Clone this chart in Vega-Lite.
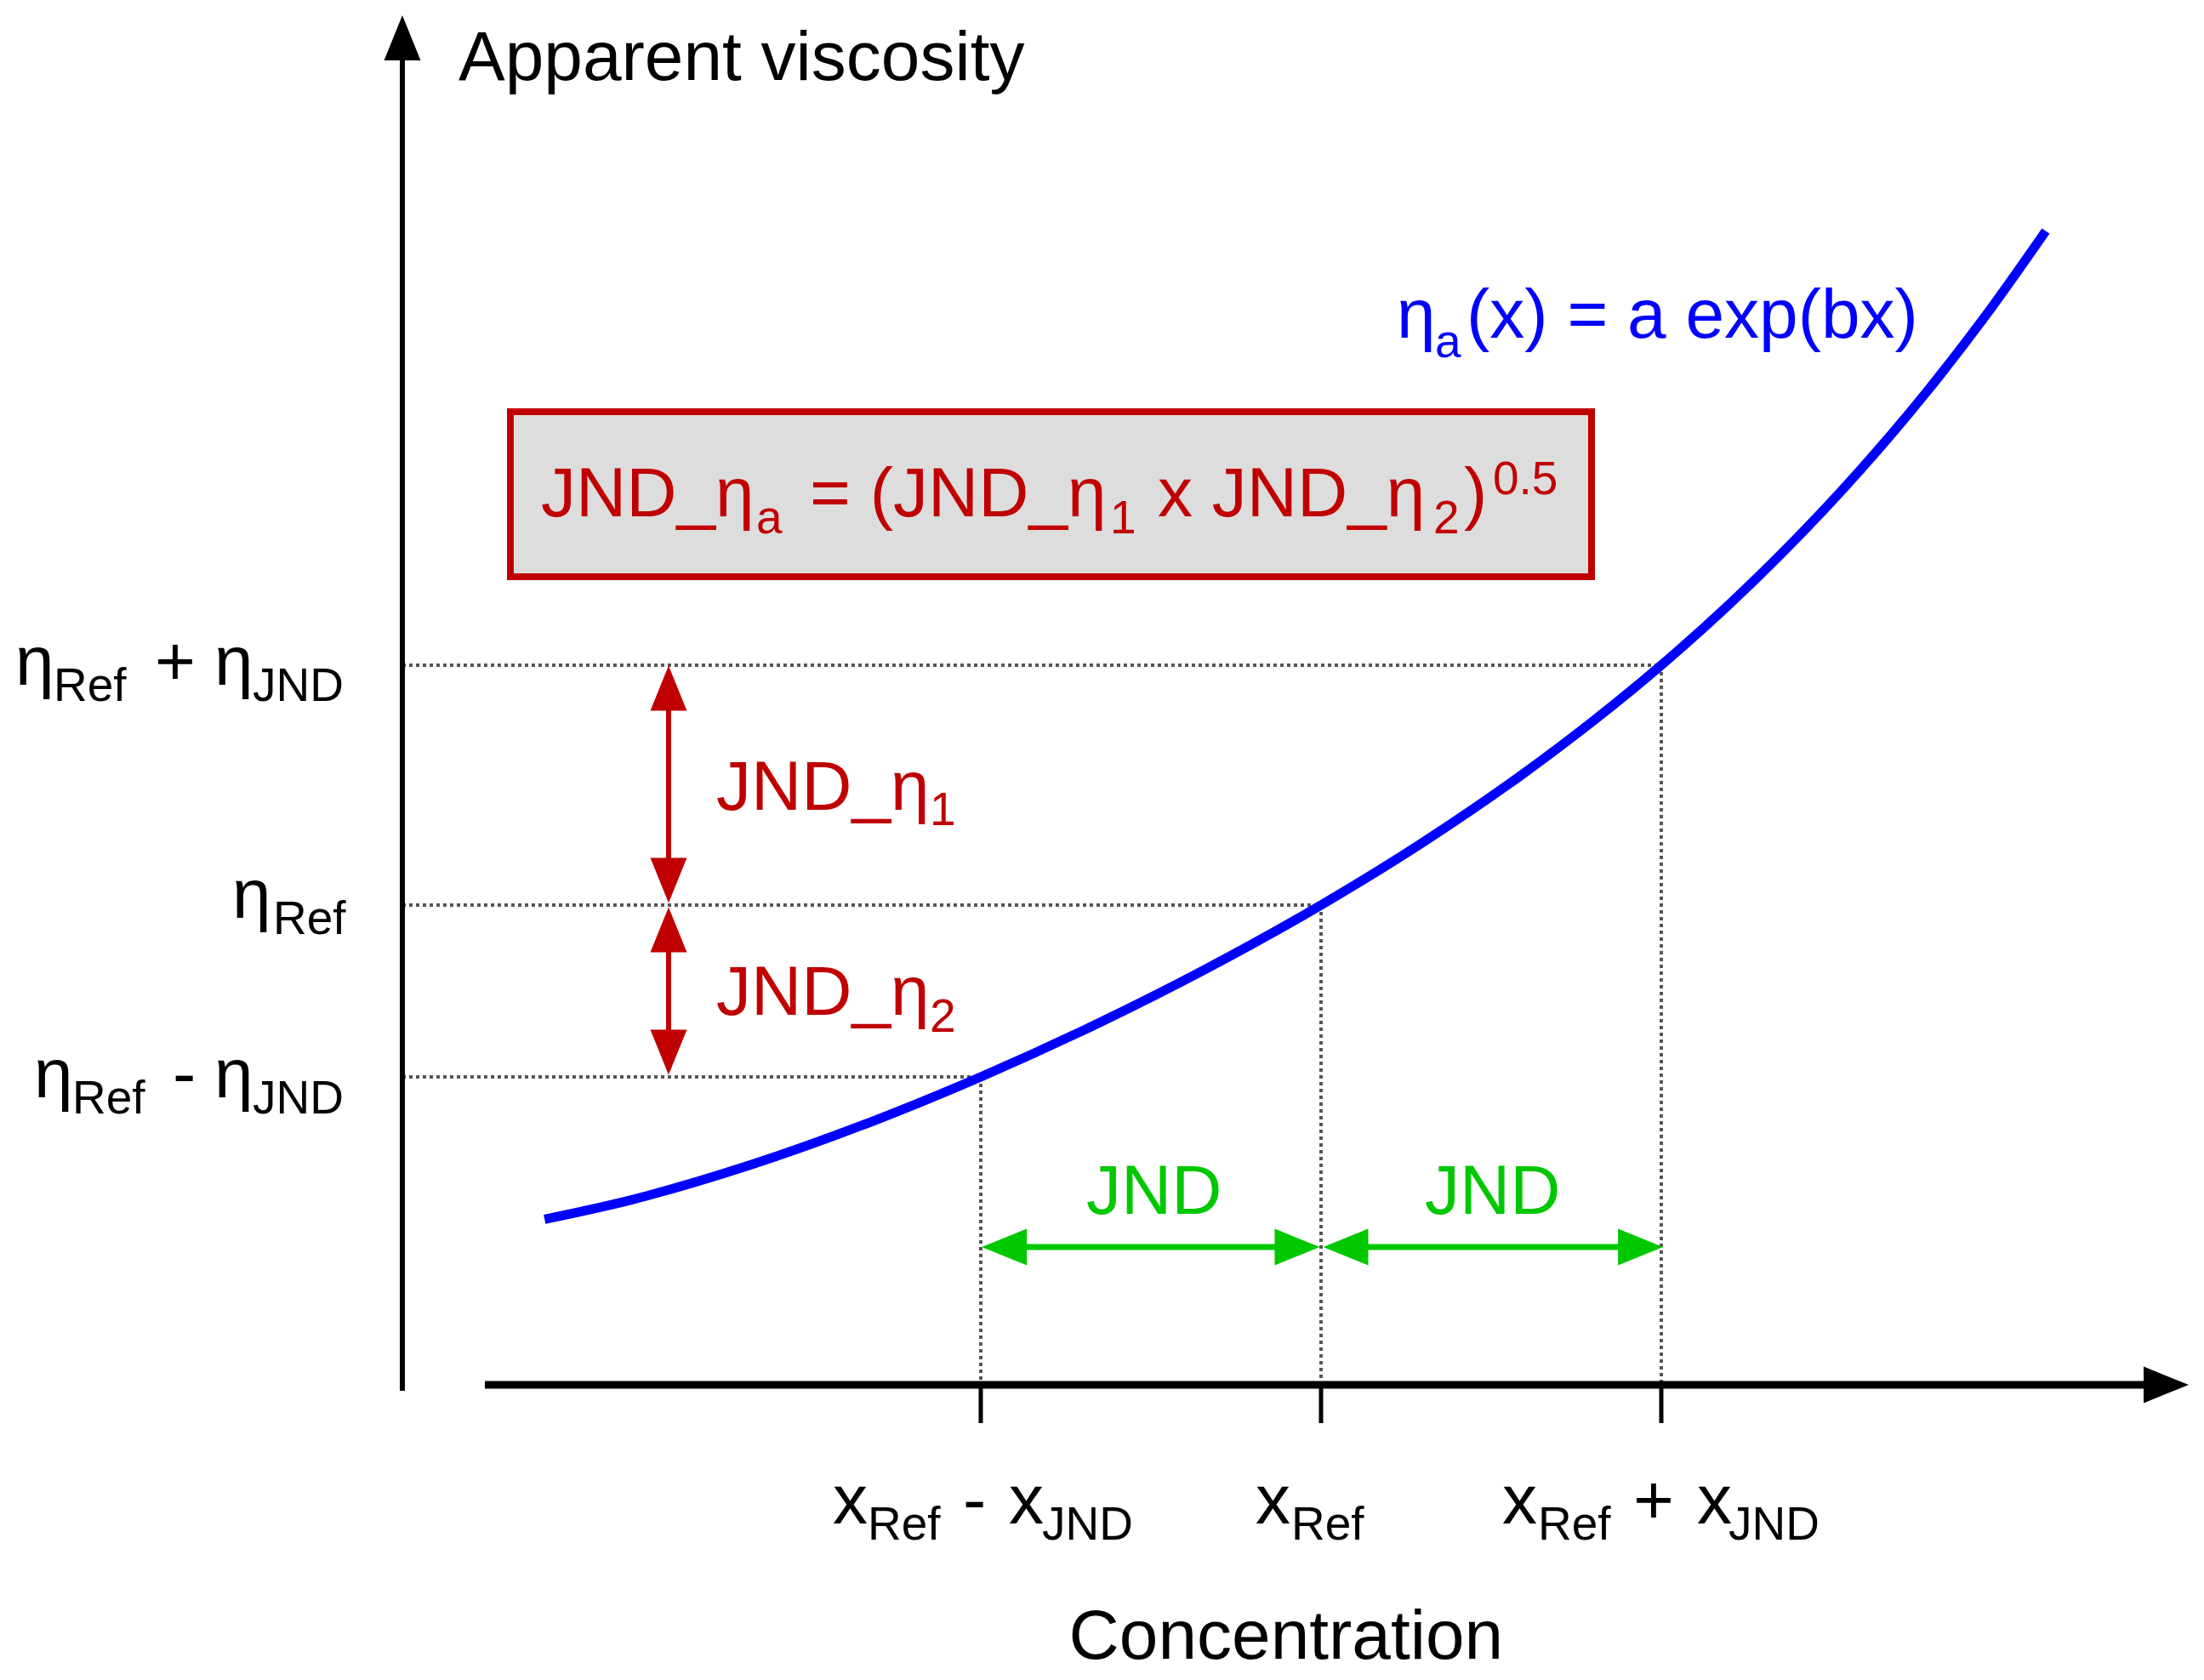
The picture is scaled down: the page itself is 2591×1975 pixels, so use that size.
{
  "$schema": "https://vega.github.io/schema/vega-lite/v6.json",
  "width": 2591,
  "height": 1975,
  "autosize": {"type": "fit", "contains": "padding"},
  "padding": 0,
  "background": "white",
  "config": {"view": {"stroke": null}},
  "datasets": {
    "curve": [
      {"x": 0.418, "y": 2.071}, {"x": 0.668, "y": 2.308}, {"x": 1.019, "y": 2.744},
      {"x": 1.37, "y": 3.276}, {"x": 1.7, "y": 3.851}, {"x": 2.05, "y": 4.532},
      {"x": 2.357, "y": 5.19}, {"x": 2.7, "y": 6.0}, {"x": 3.0, "y": 6.786},
      {"x": 3.293, "y": 7.639}, {"x": 3.5, "y": 8.303}, {"x": 3.7, "y": 9.0},
      {"x": 3.901, "y": 9.766}, {"x": 4.055, "y": 10.402}, {"x": 4.284, "y": 11.437},
      {"x": 4.484, "y": 12.44}, {"x": 4.651, "y": 13.358}, {"x": 4.83, "y": 14.43}
    ],
    "guides": [
      {"x": 0, "x2": 3.7, "y": 9.0, "y2": 9.0},
      {"x": 0, "x2": 2.7, "y": 6.0, "y2": 6.0},
      {"x": 0, "x2": 1.7, "y": 3.851, "y2": 3.851},
      {"x": 1.7, "x2": 1.7, "y": 3.851, "y2": 0},
      {"x": 2.7, "x2": 2.7, "y": 6.0, "y2": 0},
      {"x": 3.7, "x2": 3.7, "y": 9.0, "y2": 0}
    ],
    "xAxis": [{"x": 0.2425, "x2": 5.18, "y": 0, "y2": 0}],
    "yAxis": [{"x": 0, "x2": 0, "y": -0.075, "y2": 16.85}],
    "ticks": [
      {"x": 1.7, "x2": 1.7, "y": 0, "y2": -0.479},
      {"x": 2.7, "x2": 2.7, "y": 0, "y2": -0.479},
      {"x": 3.7, "x2": 3.7, "y": 0, "y2": -0.479}
    ],
    "box": [{"x": 0.3175, "x2": 3.495, "y": 12.17, "y2": 10.106}],
    "redShafts": [
      {"x": 0.7825, "x2": 0.7825, "y": 8.713, "y2": 6.309},
      {"x": 0.7825, "x2": 0.7825, "y": 5.691, "y2": 4.16}
    ],
    "greenShafts": [
      {"x": 1.769, "x2": 2.63, "y": 1.723, "y2": 1.723},
      {"x": 2.7725, "x2": 3.639, "y": 1.723, "y2": 1.723}
    ],
    "blackHeads": [
      {"x": 0, "y": 16.846, "dir": "up"},
      {"x": 5.18375, "y": 0, "dir": "right"}
    ],
    "redHeads": [
      {"x": 0.7825, "y": 8.713, "dir": "up"},
      {"x": 0.7825, "y": 6.309, "dir": "down"},
      {"x": 0.7825, "y": 5.691, "dir": "up"},
      {"x": 0.7825, "y": 4.16, "dir": "down"}
    ],
    "greenHeads": [
      {"x": 1.769, "y": 1.723, "dir": "left"},
      {"x": 2.63, "y": 1.723, "dir": "right"},
      {"x": 2.7725, "y": 1.723, "dir": "left"},
      {"x": 3.639, "y": 1.723, "dir": "right"}
    ],
    "blackMain": [
      {"x": 0.165, "y": 16.319, "t": "Apparent viscosity"},
      {"x": 1.959, "y": -3.426, "t": "Concentration"},
      {"x": -1.1375, "y": 8.755, "t": "η"},
      {"x": -0.7275, "y": 8.755, "t": "+"},
      {"x": -0.5525, "y": 8.755, "t": "η"},
      {"x": -0.5, "y": 5.84, "t": "η"},
      {"x": -1.0825, "y": 3.596, "t": "η"},
      {"x": -0.675, "y": 3.596, "t": "-"},
      {"x": -0.5525, "y": 3.596, "t": "η"},
      {"x": 1.265, "y": -1.734, "t": "x"},
      {"x": 1.6475, "y": -1.734, "t": "-"},
      {"x": 1.7825, "y": -1.734, "t": "x"},
      {"x": 2.5075, "y": -1.734, "t": "x"},
      {"x": 3.2325, "y": -1.734, "t": "x"},
      {"x": 3.6175, "y": -1.734, "t": "+"},
      {"x": 3.805, "y": -1.734, "t": "x"}
    ],
    "blackSub": [
      {"x": -1.025, "y": 8.553, "t": "Ref"},
      {"x": -0.44, "y": 8.553, "t": "JND"},
      {"x": -0.38, "y": 5.638, "t": "Ref"},
      {"x": -0.97, "y": 3.394, "t": "Ref"},
      {"x": -0.44, "y": 3.394, "t": "JND"},
      {"x": 1.3675, "y": -1.936, "t": "Ref"},
      {"x": 1.88, "y": -1.936, "t": "JND"},
      {"x": 2.6125, "y": -1.936, "t": "Ref"},
      {"x": 3.3375, "y": -1.936, "t": "Ref"},
      {"x": 3.8975, "y": -1.936, "t": "JND"}
    ],
    "blueMain": [
      {"x": 2.9225, "y": 13.096, "t": "η"},
      {"x": 3.1275, "y": 13.096, "t": "(x) = a exp(bx)"}
    ],
    "blueSub": [
      {"x": 3.035, "y": 12.851, "t": "a"}
    ],
    "redMain": [
      {"x": 0.4075, "y": 10.862, "t": "JND_η"},
      {"x": 1.1975, "y": 10.862, "t": "= (JND_η"},
      {"x": 2.22, "y": 10.862, "t": "x JND_η"},
      {"x": 3.12, "y": 10.862, "t": ")"},
      {"x": 0.9225, "y": 7.191, "t": "JND_η"},
      {"x": 0.9225, "y": 4.628, "t": "JND_η"}
    ],
    "redSub": [
      {"x": 1.04, "y": 10.649, "t": "a"},
      {"x": 2.08, "y": 10.649, "t": "1"},
      {"x": 3.03, "y": 10.649, "t": "2"},
      {"x": 3.205, "y": 11.138, "t": "0.5"},
      {"x": 1.55, "y": 7.0, "t": "1"},
      {"x": 1.55, "y": 4.415, "t": "2"}
    ],
    "greenMain": [
      {"x": 2.01, "y": 2.138, "t": "JND"},
      {"x": 3.005, "y": 2.138, "t": "JND"}
    ]
  },
  "encoding": {
    "x": {"field": "x", "type": "quantitative", "scale": {"domain": [-1.1825, 5.295], "nice": false, "zero": false}, "axis": null},
    "y": {"field": "y", "type": "quantitative", "scale": {"domain": [-3.6915, 17.3191], "nice": false, "zero": false}, "axis": null}
  },
  "layer": [
    {
      "data": {"name": "box"},
      "mark": {"type": "rect", "fill": "#dddddd", "stroke": "#c00000", "strokeWidth": 8},
      "encoding": {"x2": {"field": "x2"}, "y2": {"field": "y2"}}
    },
    {
      "data": {"name": "guides"},
      "mark": {"type": "rule", "color": "#555555", "strokeWidth": 4, "strokeDash": [4, 4]},
      "encoding": {"x2": {"field": "x2"}, "y2": {"field": "y2"}}
    },
    {
      "data": {"name": "curve"},
      "mark": {"type": "line", "color": "#0000ff", "strokeWidth": 11, "interpolate": "monotone"},
      "encoding": {"order": {"field": "x", "type": "quantitative"}}
    },
    {
      "data": {"name": "xAxis"},
      "mark": {"type": "rule", "color": "#000000", "strokeWidth": 9},
      "encoding": {"x2": {"field": "x2"}, "y2": {"field": "y2"}}
    },
    {
      "data": {"name": "yAxis"},
      "mark": {"type": "rule", "color": "#000000", "strokeWidth": 6},
      "encoding": {"x2": {"field": "x2"}, "y2": {"field": "y2"}}
    },
    {
      "data": {"name": "ticks"},
      "mark": {"type": "rule", "color": "#000000", "strokeWidth": 5},
      "encoding": {"x2": {"field": "x2"}, "y2": {"field": "y2"}}
    },
    {
      "data": {"name": "redShafts"},
      "mark": {"type": "rule", "color": "#c00000", "strokeWidth": 6},
      "encoding": {"x2": {"field": "x2"}, "y2": {"field": "y2"}}
    },
    {
      "data": {"name": "greenShafts"},
      "mark": {"type": "rule", "color": "#00c800", "strokeWidth": 7},
      "encoding": {"x2": {"field": "x2"}, "y2": {"field": "y2"}}
    },
    {
      "data": {"name": "blackHeads"},
      "mark": {"type": "point", "filled": true, "size": 2809, "opacity": 1, "strokeWidth": 0, "color": "#000000"},
      "encoding": {"shape": {"field": "dir", "type": "nominal", "legend": null, "scale": {"domain": ["up", "down", "left", "right"], "range": ["M0,-1L0.81,1L-0.81,1Z", "M0,1L0.81,-1L-0.81,-1Z", "M-1,0L1,-0.81L1,0.81Z", "M1,0L-1,-0.81L-1,0.81Z"]}}}
    },
    {
      "data": {"name": "redHeads"},
      "mark": {"type": "point", "filled": true, "size": 2809, "opacity": 1, "strokeWidth": 0, "color": "#c00000"},
      "encoding": {"shape": {"field": "dir", "type": "nominal", "legend": null, "scale": {"domain": ["up", "down", "left", "right"], "range": ["M0,-1L0.81,1L-0.81,1Z", "M0,1L0.81,-1L-0.81,-1Z", "M-1,0L1,-0.81L1,0.81Z", "M1,0L-1,-0.81L-1,0.81Z"]}}}
    },
    {
      "data": {"name": "greenHeads"},
      "mark": {"type": "point", "filled": true, "size": 2809, "opacity": 1, "strokeWidth": 0, "color": "#00c800"},
      "encoding": {"shape": {"field": "dir", "type": "nominal", "legend": null, "scale": {"domain": ["up", "down", "left", "right"], "range": ["M0,-1L0.81,1L-0.81,1Z", "M0,1L0.81,-1L-0.81,-1Z", "M-1,0L1,-0.81L1,0.81Z", "M1,0L-1,-0.81L-1,0.81Z"]}}}
    },
    {
      "data": {"name": "blackMain"},
      "mark": {"type": "text", "align": "left", "baseline": "alphabetic", "font": "Liberation Sans", "fontSize": 82, "color": "#000000"},
      "encoding": {"text": {"field": "t"}}
    },
    {
      "data": {"name": "blackSub"},
      "mark": {"type": "text", "align": "left", "baseline": "alphabetic", "font": "Liberation Sans", "fontSize": 55, "color": "#000000"},
      "encoding": {"text": {"field": "t"}}
    },
    {
      "data": {"name": "blueMain"},
      "mark": {"type": "text", "align": "left", "baseline": "alphabetic", "font": "Liberation Sans", "fontSize": 82, "color": "#0000ff"},
      "encoding": {"text": {"field": "t"}}
    },
    {
      "data": {"name": "blueSub"},
      "mark": {"type": "text", "align": "left", "baseline": "alphabetic", "font": "Liberation Sans", "fontSize": 55, "color": "#0000ff"},
      "encoding": {"text": {"field": "t"}}
    },
    {
      "data": {"name": "redMain"},
      "mark": {"type": "text", "align": "left", "baseline": "alphabetic", "font": "Liberation Sans", "fontSize": 82, "color": "#c00000"},
      "encoding": {"text": {"field": "t"}}
    },
    {
      "data": {"name": "redSub"},
      "mark": {"type": "text", "align": "left", "baseline": "alphabetic", "font": "Liberation Sans", "fontSize": 55, "color": "#c00000"},
      "encoding": {"text": {"field": "t"}}
    },
    {
      "data": {"name": "greenMain"},
      "mark": {"type": "text", "align": "left", "baseline": "alphabetic", "font": "Liberation Sans", "fontSize": 82, "color": "#00c800"},
      "encoding": {"text": {"field": "t"}}
    }
  ]
}
